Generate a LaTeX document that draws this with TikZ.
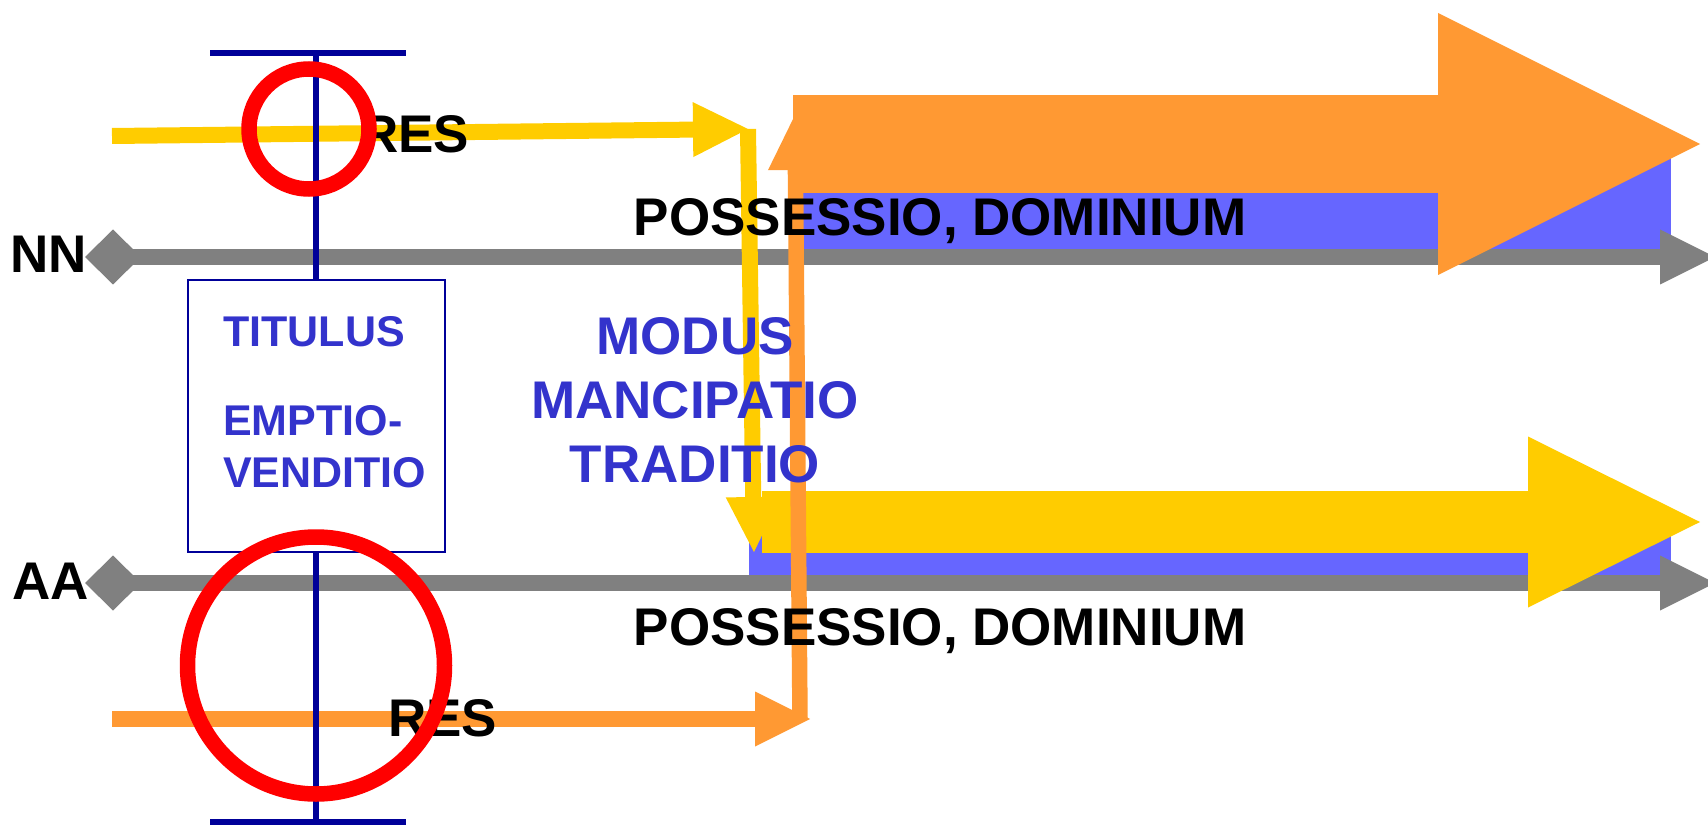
\documentclass[tikz,border=0pt]{standalone}
\usepackage{fontspec}
\setmainfont{Liberation Sans}
\usetikzlibrary{arrows.meta}

\definecolor{resyellow}{HTML}{FFCC00}
\definecolor{resorange}{HTML}{FF9933}
\definecolor{possblue}{HTML}{6666FF}
\definecolor{titnavy}{HTML}{000099}
\definecolor{modblue}{HTML}{3333CC}

\begin{document}
\begin{tikzpicture}[x=1pt,y=-1pt]
	\tikzset{>={Triangle[length=55pt,width=55pt,line width=0pt]}}
	\tikzset{lbl/.style={font=\fontsize{53}{64}\selectfont\bfseries,inner sep=0pt}}
	\tikzset{navyline/.style={titnavy,line width=6pt}}
	\tikzset{ring/.style={red,line width=15.5pt}}
	\tikzset{timeline/.style={gray,line width=16pt,{Diamond[length=56pt,width=55pt,line width=0pt]}->}}
	\useasboundingbox (0,0) rectangle (1708,826);
	\clip (0,0) rectangle (1708,826);
	% blue strips
	\fill[possblue] (802,140) rectangle (1671,257);
	\fill[possblue] (749,519) rectangle (1671,583);
	% NN and AA
	\coordinate (NNstart) at (85,257);
	\coordinate (NNend) at (1715,257);
	\coordinate (AAstart) at (85,583);
	\coordinate (AAend) at (1715,583);
	\draw[timeline] (NNstart) -- (NNend);
	\draw[timeline] (AAstart) -- (AAend);
	% big arrows
	\coordinate (bigNa) at (793,144);
	\coordinate (bigNb) at (1700,144);
	\coordinate (bigAa) at (762,522);
	\coordinate (bigAb) at (1700,522);
	\draw[resorange,line width=98pt,-{Triangle[length=262pt,width=262pt,line width=0pt]}] (bigNa) -- (bigNb);
	\draw[resyellow,line width=62pt,-{Triangle[length=172pt,width=171pt,line width=0pt]}] (bigAa) -- (bigAb);
	% res
	\coordinate (resNa) at (112,136);
	\coordinate (resNb) at (748,129);
	\coordinate (resNc) at (754,552);
	\draw[resyellow,line width=16pt,->] (resNa) -- (resNb);
	\draw[resyellow,line width=16pt,->] (resNb) -- (resNc);
	\coordinate (resAa) at (112,719);
	\coordinate (resAb) at (810,719);
	\coordinate (resAc) at (800,719);
	\coordinate (resAd) at (795,115);
	\draw[resorange,line width=15.5pt,->] (resAa) -- (resAb);
	\draw[resorange,line width=15.5pt,->] (resAc) -- (resAd);
	% titulus
	\coordinate (barTL) at (210,53);
	\coordinate (barTR) at (406,53);
	\coordinate (barTM) at (316,53);
	\coordinate (barBL) at (210,822);
	\coordinate (barBR) at (406,822);
	\coordinate (barBM) at (316,822);
	\node[draw=titnavy,line width=2pt,minimum width=257pt,minimum height=272pt,inner sep=0pt] (titulus) at (316,416) {};
	\draw[navyline] (barTL) -- (barTR);
	\draw[navyline] (barBL) -- (barBR);
	\draw[navyline] (barTM) -- (titulus.north);
	\draw[navyline] (titulus.south) -- (barBM);
	% labels
	\node[lbl,anchor=base west] (NN) at (10,273) {NN};
	\node[lbl,anchor=base west] (AA) at (12,599) {AA};
	\node[lbl,anchor=base west] (resN) at (360,153) {RES};
	\node[lbl,anchor=base west] (resA) at (388,736) {RES};
	\node[lbl,anchor=base] (possN) at (940,236) {POSSESSIO, DOMINIUM};
	\node[lbl,anchor=base] (possA) at (940,645) {POSSESSIO, DOMINIUM};
	\node[lbl,text=modblue,anchor=north,align=center] (modus) at (695,317) {MODUS\\MANCIPATIO\\TRADITIO};
	\node[font=\fontsize{43}{52}\selectfont\bfseries,text=modblue,anchor=north west,align=left,inner sep=0pt] (titulustext) at (223,316) {TITULUS\\[37pt]EMPTIO-\\VENDITIO};
	% rings
	\draw[ring] (309,129) circle (60pt);
	\draw[ring] (316,665.5) circle (128.5pt);
\end{tikzpicture}
\end{document}
